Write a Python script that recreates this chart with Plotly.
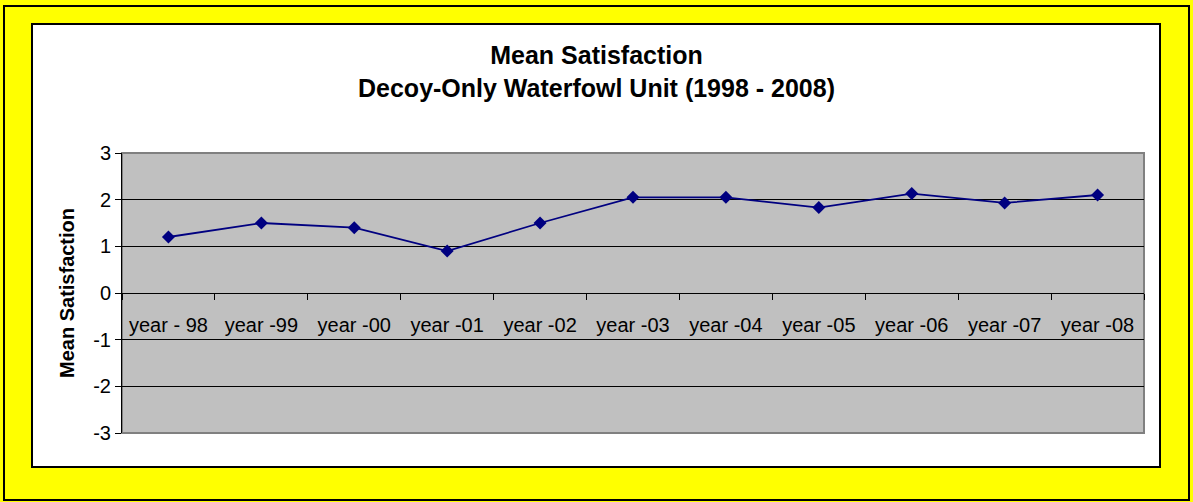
import plotly.graph_objects as go

categories = ["year - 98", "year -99", "year -00", "year -01", "year -02", "year -03",
              "year -04", "year -05", "year -06", "year -07", "year -08"]
mean_satisfaction = [1.2, 1.5, 1.4, 0.9, 1.5, 2.05, 2.05, 1.83, 2.13, 1.93, 2.1]
y_ticks = [3, 2, 1, 0, -1, -2, -3]
y_tick_labels = ["3", "2", "1", "0", "-1", "-2", "-3"]

W, H = 1193, 502
L, R, T, B = 122, 1144, 153, 433


def px_x(p):
    return (p - L) / (R - L)


def px_y(p):
    return (B - p) / (B - T)


fig = go.Figure()
fig.add_trace(go.Scatter(
    x=categories, y=mean_satisfaction, mode="lines+markers",
    line=dict(color="#000080", width=1.8),
    marker=dict(symbol="diamond", size=10, color="#000080"),
    showlegend=False, cliponaxis=False,
))

fig.update_layout(
    width=W, height=H,
    margin=dict(l=L, r=W - R, t=T, b=H - B, autoexpand=False),
    paper_bgcolor="#FFFF00",
    plot_bgcolor="#C0C0C0",
    font=dict(family="Arial, Liberation Sans, sans-serif", color="black"),
    title=dict(
        text="<b>Mean Satisfaction<br>Decoy-Only Waterfowl Unit (1998 - 2008)</b>",
        x=0.5, xanchor="center", y=1 - 64 / H, yanchor="middle", yref="container",
        font=dict(size=25, color="black"),
    ),
    xaxis=dict(
        type="category", anchor="free", position=0.5,
        range=[-0.5, len(categories) - 0.5],
        showline=True, linecolor="black", linewidth=1,
        ticks="outside", ticklen=6, tickcolor="black", tickson="boundaries",
        tickfont=dict(size=20), ticklabelstandoff=14,
        showgrid=False, automargin=False, fixedrange=True,
    ),
    yaxis=dict(
        range=[-3, 3], tickvals=y_ticks, ticktext=y_tick_labels,
        showline=True, linecolor="black", linewidth=1,
        ticks="outside", ticklen=6, tickcolor="black",
        tickfont=dict(size=20),
        showgrid=True, gridcolor="black", gridwidth=1,
        zeroline=True, zerolinecolor="black", zerolinewidth=1,
        title=dict(text="<b>Mean Satisfaction</b>", font=dict(size=20), standoff=13),
        automargin=False, fixedrange=True,
    ),
    shapes=[
        dict(type="rect", xref="paper", yref="paper",
             x0=px_x(4), x1=px_x(1189), y0=px_y(500), y1=px_y(6),
             line=dict(color="black", width=2), fillcolor="#FFFF00", layer="below"),
        dict(type="rect", xref="paper", yref="paper",
             x0=px_x(32), x1=px_x(1160), y0=px_y(467), y1=px_y(24),
             line=dict(color="black", width=2), fillcolor="white", layer="below"),
        dict(type="rect", xref="paper", yref="paper",
             x0=0, x1=1, y0=0, y1=1,
             line=dict(color="#808080", width=2), fillcolor="#C0C0C0", layer="below"),
    ],
)

fig.write_html("out.html", config={"displayModeBar": False},
               post_script="document.body.style.margin='0';")
